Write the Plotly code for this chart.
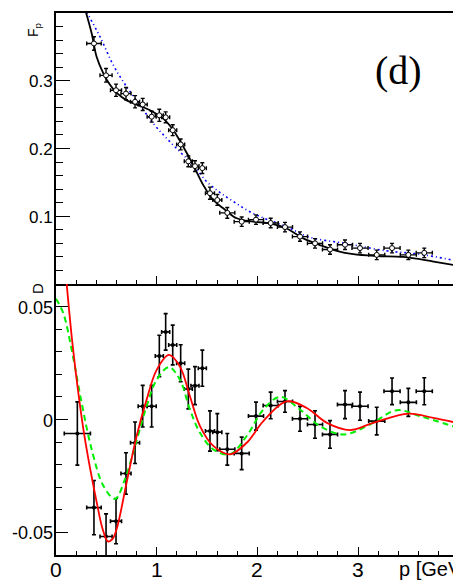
import plotly.graph_objects as go

# ---- measured points -------------------------------------------------------
p_bins = [0.377, 0.497, 0.596, 0.695, 0.785, 0.861, 0.950, 1.026, 1.089, 1.159,
          1.238, 1.314, 1.380, 1.453, 1.529, 1.602, 1.701, 1.844, 1.986, 2.132,
          2.274, 2.423, 2.572, 2.721, 2.870, 3.019, 3.185, 3.337, 3.499, 3.657]
p_err = [0.072, 0.060, 0.055, 0.050, 0.045, 0.045, 0.045, 0.040, 0.040, 0.040,
         0.040, 0.040, 0.040, 0.040, 0.045, 0.045, 0.075, 0.075, 0.075, 0.075,
         0.075, 0.075, 0.075, 0.075, 0.075, 0.080, 0.080, 0.080, 0.080, 0.080]

F_p = [0.355, 0.308, 0.286, 0.281, 0.269, 0.265, 0.247, 0.249, 0.246, 0.227,
       0.206, 0.181, 0.174, 0.171, 0.134, 0.124, 0.105, 0.092, 0.095, 0.090,
       0.084, 0.070, 0.060, 0.051, 0.058, 0.053, 0.043, 0.053, 0.043, 0.046]
F_p_err = [0.010, 0.010, 0.009, 0.009, 0.009, 0.009, 0.008, 0.009, 0.008, 0.008,
           0.008, 0.008, 0.008, 0.008, 0.009, 0.008, 0.008, 0.007, 0.007, 0.007,
           0.007, 0.007, 0.007, 0.007, 0.007, 0.007, 0.007, 0.007, 0.007, 0.007]

# the D distribution has one extra low-momentum bin
p_bins_D = [0.212] + p_bins
p_err_D = [0.13] + p_err
D_val = [-0.0062, -0.0390, -0.0518, -0.0450, -0.0239, -0.0103, 0.0059, 0.0059,
         0.0281, 0.0388, 0.0330, 0.0249, 0.0135, 0.0150, 0.0227, -0.0051,
         -0.0056, -0.0132, -0.0150, 0.0015, 0.0062, 0.0080, 0.0003, -0.0022,
         -0.0066, 0.0066, 0.0059, -0.0007, 0.0125, 0.0076, 0.0125]
D_err = [0.014, 0.012, 0.010, 0.010, 0.0092, 0.0092, 0.0092, 0.0092, 0.0092,
         0.0081, 0.0088, 0.0082, 0.0088, 0.0084, 0.0080, 0.0089, 0.0082, 0.0070,
         0.0072, 0.0062, 0.0059, 0.0048, 0.0055, 0.0061, 0.0061, 0.0062, 0.0062,
         0.0061, 0.0059, 0.0062, 0.0060]

# ---- model curves ----------------------------------------------------------
fit_p = [0.28, 0.354, 0.404, 0.47, 0.536, 0.603, 0.702, 0.834, 0.966, 1.066,
         1.165, 1.264, 1.363, 1.463, 1.562, 1.661, 1.794, 1.96, 2.125, 2.29,
         2.456, 2.62, 2.787, 2.952, 3.185, 3.45, 3.75, 3.95]
fit_F = [0.41, 0.370, 0.335, 0.311, 0.294, 0.282, 0.271, 0.263, 0.254, 0.244,
         0.227, 0.2025, 0.1755, 0.146, 0.124, 0.1117, 0.097, 0.092, 0.0895, 0.082,
         0.0674, 0.0575, 0.049, 0.044, 0.0413, 0.040, 0.033, 0.028]

smooth_p = [0.26, 0.31, 0.437, 0.569, 0.702, 0.834, 0.966, 1.099, 1.231, 1.363,
            1.497, 1.629, 1.728, 1.96, 2.29, 2.52, 2.87, 3.28, 3.61, 3.95]
smooth_F = [0.413, 0.400, 0.365, 0.323, 0.291, 0.264, 0.237, 0.215, 0.195, 0.1755,
            0.151, 0.135, 0.125, 0.104, 0.0845, 0.069, 0.060, 0.049, 0.044, 0.035]

osc_p = [0.09, 0.106, 0.16, 0.222, 0.278, 0.34, 0.404, 0.46, 0.515, 0.56, 0.603,
         0.702, 0.801, 0.90, 1.0, 1.122, 1.231, 1.33, 1.43, 1.562, 1.728, 1.894,
         2.059, 2.29, 2.49, 2.69, 2.92, 3.15, 3.50, 3.747, 3.95]
osc_D = [0.068, 0.060, 0.035, 0.0117, -0.006, -0.022, -0.0366, -0.048, -0.054,
         -0.053, -0.0484, -0.0278, -0.0073, 0.0088, 0.022, 0.0286, 0.0234, 0.0103,
         -0.0029, -0.0117, -0.0154, -0.0103, -0.0007, 0.008, 0.0051, -0.0015,
         -0.0047, -0.0015, 0.0026, 0.0007, -0.0012]

alt_p = [0.0, 0.073, 0.156, 0.255, 0.354, 0.47, 0.586, 0.685, 0.785, 0.90, 1.0,
         1.122, 1.231, 1.33, 1.43, 1.562, 1.728, 1.894, 2.059, 2.224, 2.423, 2.62,
         2.853, 3.118, 3.383, 3.615, 3.95]
alt_D = [0.0535, 0.047, 0.0308, 0.0073, -0.0132, -0.0293, -0.0352, -0.0264,
         -0.0117, 0.0059, 0.0176, 0.0232, 0.0176, 0.0044, -0.0059, -0.0132,
         -0.0154, -0.0073, 0.0044, 0.0100, 0.0044, -0.0029, -0.0066, -0.0022,
         0.0041, 0.0015, -0.0031]

# ---- tick labels -----------------------------------------------------------
x_ticks = [0, 1, 2, 3]
x_ticktext = ["0", "1", "2", "3"]
F_ticks = [0.1, 0.2, 0.3]
F_ticktext = ["0.1", "0.2", "0.3"]
D_ticks = [-0.05, 0, 0.05]
D_ticktext = ["-0.05", "0", "0.05"]

FONT = "Liberation Sans, Arial, sans-serif"

fig = go.Figure()

# upper pad: F_p
fig.add_trace(go.Scatter(x=smooth_p, y=smooth_F, mode="lines", line_shape="spline",
                         line=dict(color="#0000ff", width=1.6, dash="2px,3px,1px,3px"),
                         xaxis="x", yaxis="y", hoverinfo="skip"))
fig.add_trace(go.Scatter(x=fit_p, y=fit_F, mode="lines", line_shape="spline",
                         line=dict(color="black", width=1.8),
                         xaxis="x", yaxis="y", hoverinfo="skip"))
fig.add_trace(go.Scatter(x=p_bins, y=F_p, mode="markers",
                         marker=dict(symbol="circle", size=5, color="white",
                                     line=dict(color="black", width=1)),
                         error_x=dict(type="data", array=p_err, color="black",
                                      thickness=1.4, width=2),
                         error_y=dict(type="data", array=F_p_err, color="black",
                                      thickness=1.4, width=2),
                         xaxis="x", yaxis="y"))

# lower pad: D
fig.add_trace(go.Scatter(x=p_bins_D, y=D_val, mode="markers",
                         marker=dict(symbol="circle", size=4, color="black"),
                         error_x=dict(type="data", array=p_err_D, color="black",
                                      thickness=1.6, width=2),
                         error_y=dict(type="data", array=D_err, color="black",
                                      thickness=1.6, width=2),
                         xaxis="x2", yaxis="y2"))
fig.add_trace(go.Scatter(x=alt_p, y=alt_D, mode="lines", line_shape="spline",
                         line=dict(color="#00ee00", width=2, dash="6px,4px"),
                         xaxis="x2", yaxis="y2", hoverinfo="skip"))
fig.add_trace(go.Scatter(x=osc_p, y=osc_D, mode="lines", line_shape="spline",
                         line=dict(color="#ff0000", width=1.8),
                         xaxis="x2", yaxis="y2", hoverinfo="skip"))

x_range = [0, 397 / 100.7]

common_x = dict(range=x_range, showgrid=False, zeroline=False, showline=True,
                linecolor="black", linewidth=2, ticks="inside", tick0=0, dtick=1,
                ticklen=8, tickwidth=1.2, tickcolor="black", showticklabels=False,
                minor=dict(tick0=0, dtick=0.2, ticks="inside", ticklen=4,
                           tickcolor="black", tickwidth=1))

fig.update_layout(
    width=453, height=585,
    margin=dict(l=56, r=0, t=13, b=30),
    paper_bgcolor="white", plot_bgcolor="white",
    showlegend=False,
    font=dict(family=FONT, color="black"),
    xaxis=dict(anchor="y", domain=[0, 1], mirror=True, **common_x),
    xaxis2=dict(anchor="y2", domain=[0, 1], matches="x", **common_x),
    yaxis=dict(domain=[0.5, 1], range=[0, 0.4], showgrid=False, zeroline=False,
               showline=True, linecolor="black", linewidth=2,
               tickmode="array", tickvals=F_ticks, showticklabels=False,
               ticks="inside", ticklen=14, tickwidth=1.2, tickcolor="black",
               minor=dict(tickmode="linear", tick0=0, dtick=0.02, ticks="inside",
                          ticklen=7, tickcolor="black", tickwidth=1)),
    yaxis2=dict(domain=[0, 0.5], range=[-0.06, 0.06], showgrid=False,
                zeroline=False, showline=True, linecolor="black", linewidth=2,
                tickmode="array", tickvals=D_ticks, showticklabels=False,
                ticks="inside", ticklen=12, tickwidth=1.2, tickcolor="black",
                minor=dict(tickmode="linear", tick0=0, dtick=0.01, ticks="inside",
                           ticklen=6, tickcolor="black", tickwidth=1)),
)

# axis numbers, placed against the axes
for v, t in zip(x_ticks, x_ticktext):
    fig.add_annotation(text=t, xref="x2", yref="paper", x=v, y=-14 / 542,
                       xanchor="center", yanchor="middle", showarrow=False,
                       font=dict(family=FONT, size=21, color="black"))
for v, t in zip(F_ticks, F_ticktext):
    fig.add_annotation(text=t, xref="paper", yref="y", x=-1 / 397, y=v,
                       xanchor="right", yanchor="middle", yshift=-1,
                       showarrow=False,
                       font=dict(family=FONT, size=17, color="black"))
for v, t in zip(D_ticks, D_ticktext):
    fig.add_annotation(text=t, xref="paper", yref="y2", x=-1 / 397, y=v,
                       xanchor="right", yanchor="middle", yshift=-1,
                       showarrow=False,
                       font=dict(family=FONT, size=18, color="black"))

fig.add_annotation(text="(d)", xref="paper", yref="paper",
                   x=(398 - 56) / 397, y=(555 - 70) / 542,
                   xanchor="center", yanchor="middle", showarrow=False,
                   font=dict(family="Liberation Serif, Times New Roman, serif",
                             size=40, color="black"))
fig.add_annotation(text="F<sub>p</sub>", xref="paper", yref="paper",
                   x=(34 - 56) / 397, y=(555 - 30) / 542, textangle=-90,
                   xanchor="center", yanchor="middle", showarrow=False,
                   font=dict(family=FONT, size=14, color="black"))
fig.add_annotation(text="D", xref="paper", yref="paper",
                   x=(37 - 56) / 397, y=(555 - 289) / 542, textangle=-90,
                   xanchor="center", yanchor="middle", showarrow=False,
                   font=dict(family=FONT, size=15, color="black"))
fig.add_annotation(text="p [GeV/c]", xref="paper", yref="paper",
                   x=(397 - 56) / 397, y=(555 - 569) / 542,
                   xanchor="left", yanchor="middle", showarrow=False,
                   font=dict(family=FONT, size=20, color="black"))

fig.write_html("out.html")
